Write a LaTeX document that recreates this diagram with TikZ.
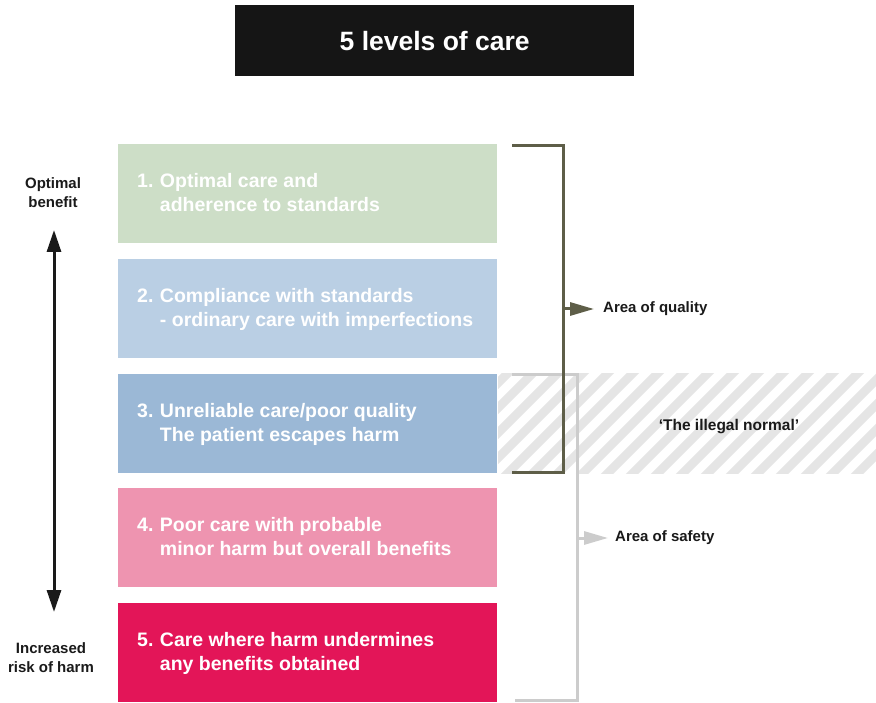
\documentclass[tikz,border=0pt]{standalone}
\usepackage{fontspec}
\setmainfont{Liberation Sans}
\usetikzlibrary{arrows.meta,calc}
\definecolor{titlebg}{HTML}{151515}
\definecolor{c1}{HTML}{CDDEC7}
\definecolor{c2}{HTML}{BACFE4}
\definecolor{c3}{HTML}{9BB8D6}
\definecolor{c4}{HTML}{EE94B0}
\definecolor{c5}{HTML}{E31558}
\definecolor{olive}{HTML}{5E5E48}
\definecolor{safegray}{HTML}{CCCCCC}
\definecolor{hatchgray}{HTML}{E5E5E5}
\definecolor{ink}{HTML}{1A1A1A}
\begin{document}
\begin{tikzpicture}[x=1pt,y=-1pt,
  levelbox/.style={draw=none,fill=#1,minimum width=379pt,minimum height=99pt,inner sep=0pt,anchor=north west},
  leveltext/.style={anchor=west,inner sep=0pt,text=white,font=\bfseries\fontsize{19.5}{24}\selectfont},
  sidelabel/.style={inner sep=0pt,text=ink,align=center,font=\bfseries\fontsize{15}{19}\selectfont},
  arealabel/.style={inner sep=0pt,text=ink,anchor=west,font=\bfseries\fontsize{15}{19}\selectfont},
  qualline/.style={draw=olive,line width=3pt},
  safeline/.style={draw=safegray,line width=3pt},
  hatchline/.style={draw=hatchgray,line width=8.5pt},
]
\useasboundingbox (0,0) rectangle (876,703);
\fill[white] (0,0) rectangle (876,703);

% title
\node[fill=titlebg,minimum width=399pt,minimum height=71pt,inner sep=0pt,anchor=north west,
      text=white,font=\bfseries\fontsize{26.5}{30}\selectfont] (title) at (235,5) {5 levels of care};

% level boxes
\node[levelbox=c1] (box1) at (118,144) {};
\node[levelbox=c2] (box2) at (118,259) {};
\node[levelbox=c3] (box3) at (118,374) {};
\node[levelbox=c4] (box4) at (118,488) {};
\node[levelbox=c5] (box5) at (118,603) {};

\newcommand{\lvl}[3]{\begin{tabular}{@{}l@{\hspace{6.5pt}}l@{}}#1&#2\\&#3\end{tabular}}
\node[leveltext] (t1) at (137,194.5) {\lvl{1.}{Optimal care and}{adherence to standards}};
\node[leveltext] (t2) at (137,309.5) {\lvl{2.}{Compliance with standards}{- ordinary care with imperfections}};
\node[leveltext] (t3) at (137,424.5) {\lvl{3.}{Unreliable care/poor quality}{The patient escapes harm}};
\node[leveltext] (t4) at (137,538.5) {\lvl{4.}{Poor care with probable}{minor harm but overall benefits}};
\node[leveltext] (t5) at (137,653.5) {\lvl{5.}{Care where harm undermines}{any benefits obtained}};

% hatched area
\begin{scope}
  \clip (498,374) rectangle (876,473);
  \foreach \i in {-5,...,20} {
    \draw[hatchline] ({498+\i*25},483) -- ++(120,-120);
  }
\end{scope}
\node[inner sep=0pt,text=ink,font=\bfseries\fontsize{15.5}{19}\selectfont] (illegal) at (729,427) {‘The illegal normal’};

% safety bracket
\coordinate (s1) at (512,375);
\coordinate (s2) at (577,375);
\coordinate (s3) at (577,700.5);
\coordinate (s4) at (515,700.5);
\coordinate (sm) at (577,538);
\draw[safeline] (s1) -- (s2) -- (s3) -- (s4);
\node[arealabel] (safety) at (615,538) {Area of safety};
\draw[safeline,-{Triangle[length=24pt,width=13pt]}] (sm) -- (safety.west -| 608,0);

% quality bracket
\coordinate (q1) at (512,145.5);
\coordinate (q2) at (563,145.5);
\coordinate (q3) at (563,472);
\coordinate (q4) at (512,472);
\coordinate (qm) at (563,309);
\draw[qualline] (q1) -- (q2) -- (q3) -- (q4);
\node[arealabel] (quality) at (603,309) {Area of quality};
\draw[qualline,-{Triangle[length=24pt,width=13pt]}] (qm) -- (594,309);

% left axis
\node[sidelabel] (optimal) at (53,193) {Optimal\\benefit};
\node[sidelabel] (harm) at (51,658) {Increased\\risk of harm};
\coordinate (atop) at (54,230);
\coordinate (abot) at (54,612);
\draw[line width=3pt,ink,{Triangle[length=22pt,width=14pt]}-{Triangle[length=22pt,width=14pt]}] (atop) -- (abot);
\end{tikzpicture}
\end{document}
